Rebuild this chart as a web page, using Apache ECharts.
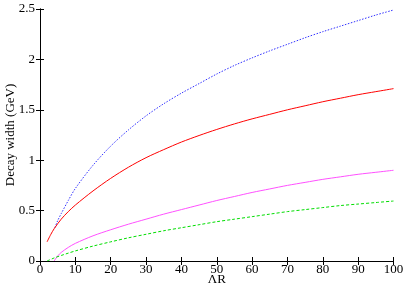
<!DOCTYPE html>
<html><head><meta charset="utf-8">
<script src="https://cdn.jsdelivr.net/npm/echarts@6/dist/echarts.min.js"></script>
<style>html,body{margin:0;padding:0;background:#fff}#c{width:407px;height:285px}</style>
</head><body><div id="c"></div>
<script>
var blueX = [4.2, 5, 6, 8, 10, 15, 20, 25, 30, 35, 40, 45, 50, 55, 60, 65, 70, 75, 80, 85, 90, 95, 100];
var blueY = [0.33, 0.40, 0.47, 0.60, 0.72, 0.95, 1.14, 1.30, 1.44, 1.56, 1.665, 1.76, 1.855, 1.94, 2.015, 2.085, 2.15, 2.215, 2.275, 2.33, 2.385, 2.44, 2.49];
var redX = [2, 3, 4, 6, 8, 10, 15, 20, 25, 30, 35, 40, 45, 50, 55, 60, 65, 70, 75, 80, 85, 90, 95, 100];
var redY = [0.19, 0.26, 0.32, 0.415, 0.49, 0.555, 0.695, 0.82, 0.93, 1.025, 1.105, 1.18, 1.245, 1.305, 1.36, 1.41, 1.455, 1.50, 1.54, 1.58, 1.615, 1.65, 1.68, 1.71];
var magX = [4, 5, 6, 8, 10, 15, 20, 25, 30, 35, 40, 45, 50, 55, 60, 65, 70, 75, 80, 85, 90, 95, 100];
var magY = [0, 0.05, 0.085, 0.135, 0.175, 0.25, 0.31, 0.365, 0.415, 0.465, 0.51, 0.555, 0.60, 0.64, 0.68, 0.715, 0.75, 0.78, 0.81, 0.835, 0.86, 0.88, 0.90];
var grnX = [2, 4, 6, 8, 10, 15, 20, 25, 30, 35, 40, 45, 50, 55, 60, 65, 70, 75, 80, 85, 90, 95, 100];
var grnY = [0, 0.03, 0.055, 0.078, 0.10, 0.148, 0.19, 0.23, 0.265, 0.30, 0.33, 0.36, 0.39, 0.415, 0.44, 0.465, 0.49, 0.51, 0.53, 0.55, 0.565, 0.58, 0.595];
var xName = 'ΛR';
var yName = 'Decay width (GeV)';

function pairs(xs, ys){ return xs.map(function(x,i){ return [x, ys[i]]; }); }
var font = 'Liberation Serif';
var chart = echarts.init(document.getElementById('c'), null, {renderer:'canvas'});
var axisLine = {show:true, lineStyle:{color:'#000', width:1}};
var tick = {show:true, inside:true, length:4, lineStyle:{color:'#000'}};
chart.setOption({
  animation:false,
  grid:{left:40, right:13.5, top:9, bottom:24, containLabel:false, outerBoundsMode:'none'},
  xAxis:[
    {type:'value', min:0, max:100, interval:10, position:'bottom',
     name:xName, nameLocation:'middle', nameGap:12, nameMoveOverlap:false,
     nameTextStyle:{fontFamily:font, fontSize:13, color:'#000'},
     axisLine:axisLine, axisTick:tick, splitLine:{show:false},
     axisLabel:{fontFamily:font, fontSize:13, color:'#000', margin:2}},
    {type:'value', min:0, max:100, interval:10, position:'top',
     axisLine:axisLine, axisTick:tick, splitLine:{show:false}, axisLabel:{show:false}}
  ],
  yAxis:[
    {type:'value', min:0, max:2.5, interval:0.5, position:'left',
     name:yName, nameLocation:'middle', nameGap:23, nameRotate:90, nameMoveOverlap:false,
     nameTextStyle:{fontFamily:font, fontSize:13, color:'#000'},
     axisLine:axisLine, axisTick:tick, splitLine:{show:false},
     axisLabel:{fontFamily:font, fontSize:13, color:'#000', margin:5}},
    {type:'value', min:0, max:2.5, interval:0.5, position:'right',
     axisLine:axisLine, axisTick:tick, splitLine:{show:false}, axisLabel:{show:false}}
  ],
  series:[
    {type:'line', data:pairs(blueX, blueY), smooth:0.3, symbol:'none',
     lineStyle:{color:'#3030ff', width:1, type:[1.5,1.5]}},
    {type:'line', data:pairs(redX, redY), smooth:0.3, symbol:'none',
     lineStyle:{color:'#ff0000', width:1}},
    {type:'line', data:pairs(magX, magY), smooth:0.3, symbol:'none',
     lineStyle:{color:'#ff50ff', width:1}},
    {type:'line', data:pairs(grnX, grnY), smooth:0.3, symbol:'none',
     lineStyle:{color:'#00dd00', width:1, type:[3,2]}}
  ]
});
</script></body></html>
